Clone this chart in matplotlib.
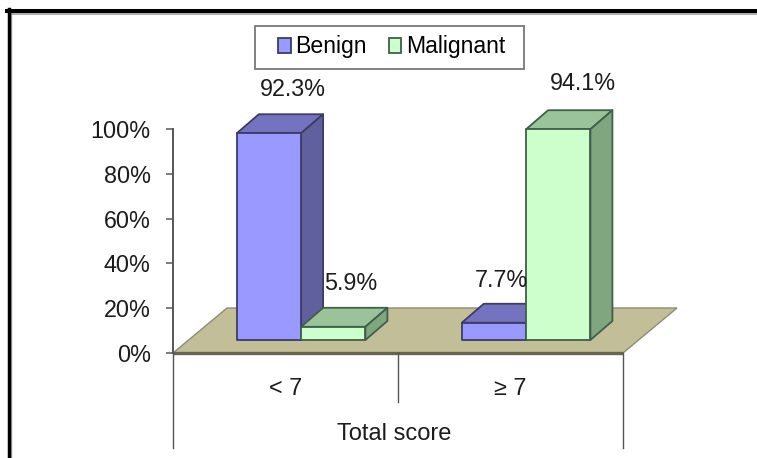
import matplotlib
matplotlib.use('Agg')
import matplotlib.pyplot as plt
from matplotlib.lines import Line2D
from matplotlib.patches import Patch, Polygon, Rectangle

categories = ['< 7', '≥ 7']
benign = [92.3, 7.7]
malignant = [5.9, 94.1]
yticks = [0, 20, 40, 60, 80, 100]

W, H = 757, 458
AX_LEFT, AX_RIGHT, AX_TOP, AX_BOTTOM = 173, 623, 129, 353

# pixels to data units
PX_X = 2 / (AX_RIGHT - AX_LEFT)
PX_Y = 100 / (AX_BOTTOM - AX_TOP)

FLOOR_DX, FLOOR_DY = 54 * PX_X, 45 * PX_Y
BAR_DX, BAR_DY = 22 * PX_X, 19 * PX_Y
BASE_DX, BASE_DY = 16 * PX_X, 13 * PX_Y
BAR_W = 64.3 * PX_X
GAP = 47.8 * PX_X

COLORS = {
    'benign': ('#9999ff', '#7373c0', '#60609f', '#3c3c66'),
    'malignant': ('#ccffcc', '#9ac39a', '#80a680', '#3f5f4a'),
}
TEXT = '#1c1c1c'
FONT = 16.8

plt.rcParams['font.family'] = ['Liberation Sans', 'DejaVu Sans']


def draw_bar(ax, x0, value, colors):
    front, top, side, edge = colors
    y0 = BASE_DY
    x1 = x0 + BAR_W
    y1 = y0 + value
    kw = dict(edgecolor=edge, linewidth=1.3, clip_on=False, joinstyle='round')
    ax.add_patch(Polygon([(x0, y1), (x1, y1), (x1 + BAR_DX, y1 + BAR_DY), (x0 + BAR_DX, y1 + BAR_DY)],
                         facecolor=top, zorder=3, **kw))
    ax.add_patch(Polygon([(x1, y0), (x1 + BAR_DX, y0 + BAR_DY), (x1 + BAR_DX, y1 + BAR_DY), (x1, y1)],
                         facecolor=side, zorder=3, **kw))
    ax.add_patch(Polygon([(x0, y0), (x1, y0), (x1, y1), (x0, y1)],
                         facecolor=front, zorder=3, **kw))


fig = plt.figure(figsize=(W / 100, H / 100), dpi=100)
ax = fig.add_axes([AX_LEFT / W, 1 - AX_BOTTOM / H, (AX_RIGHT - AX_LEFT) / W, (AX_BOTTOM - AX_TOP) / H])
ax.set_xlim(0, 2)
ax.set_ylim(0, 100)

for s in ['top', 'right', 'bottom']:
    ax.spines[s].set_visible(False)
ax.spines['left'].set_color('#555555')
ax.spines['left'].set_linewidth(1.4)

ax.set_yticks(yticks)
ax.set_yticklabels(['%d%%' % t for t in yticks], fontsize=FONT, color=TEXT)
ax.tick_params(axis='y', length=5, width=1.2, color='#666666', pad=11)
ax.set_xticks([0.5, 1.5])
ax.set_xticklabels(categories, fontsize=FONT, color=TEXT)
ax.tick_params(axis='x', length=0, pad=17)
ax.set_xlabel('Total score', fontsize=17, color=TEXT, va='center')
ax.xaxis.set_label_coords(0.491, -0.36)

# floor of the 3d box
ax.add_patch(Polygon([(0, 0), (2, 0), (2 + FLOOR_DX, FLOOR_DY), (FLOOR_DX, FLOOR_DY)],
                     facecolor='#c2bf98', edgecolor='#8c8c78', linewidth=1.0, clip_on=False, zorder=1))
ax.plot([0, 2], [0, 0], color='#66664f', linewidth=2.4, clip_on=False, zorder=2, solid_capstyle='butt')

# category dividers under the floor
ax.plot([0, 0], [0, -42.5], color='#555555', linewidth=1.0, clip_on=False)
ax.plot([1, 1], [0, -22], color='#555555', linewidth=1.0, clip_on=False)
ax.plot([2, 2], [0, -42.5], color='#555555', linewidth=1.0, clip_on=False)

# offsets of the value labels from the middle of the bar top, in points
label_offsets = [(17, 31.3), (12.5, 31), (5.2, 30.5), (18, 33)]

for i in range(len(categories)):
    x_b = i + BASE_DX + GAP
    x_m = x_b + BAR_W
    draw_bar(ax, x_b, benign[i], COLORS['benign'])
    draw_bar(ax, x_m, malignant[i], COLORS['malignant'])

for k, (x, v) in enumerate([
    (0 + BASE_DX + GAP, benign[0]),
    (0 + BASE_DX + GAP + BAR_W, malignant[0]),
    (1 + BASE_DX + GAP, benign[1]),
    (1 + BASE_DX + GAP + BAR_W, malignant[1]),
]):
    ax.annotate('%.1f%%' % v, (x + BAR_W / 2, v + BASE_DY), xytext=label_offsets[k],
                textcoords='offset points', ha='center', va='center',
                fontsize=FONT, color=TEXT, zorder=5, annotation_clip=False)

# legend box is drawn apart because its contents sit off centre
fig.add_artist(Rectangle((255 / W, 1 - 69 / H), 269 / W, 43 / H, transform=fig.transFigure,
                         facecolor='white', edgecolor='#777777', linewidth=1.3, zorder=4))
handles = [
    Patch(facecolor=COLORS['benign'][0], edgecolor=COLORS['benign'][3], linewidth=1.3, label='Benign'),
    Patch(facecolor=COLORS['malignant'][0], edgecolor=COLORS['malignant'][3], linewidth=1.3, label='Malignant'),
]
leg = fig.legend(handles=handles, loc='center left', bbox_to_anchor=(278 / W, 1 - 47 / H), ncol=2,
                 fontsize=16.6, frameon=False, handlelength=0.55, handleheight=0.6,
                 handletextpad=0.2, columnspacing=0.95, borderpad=0, borderaxespad=0)
leg.set_zorder(5)

# picture frame, open on the right and at the bottom, with a grey inner shadow
fig.add_artist(Line2D([10.8 / W, 10.8 / W], [0, 1 - 13 / H], color='#aaaaaa', linewidth=1.0, transform=fig.transFigure))
fig.add_artist(Line2D([10 / W, 1], [1 - 13.6 / H, 1 - 13.6 / H], color='#999999', linewidth=1.1, transform=fig.transFigure))
fig.add_artist(Line2D([8.5 / W, 8.5 / W], [0, 1 - 9 / H], color='black', linewidth=2.5, transform=fig.transFigure))
fig.add_artist(Line2D([7 / W, 1], [1 - 11 / H, 1 - 11 / H], color='black', linewidth=2.9, transform=fig.transFigure))

fig.savefig('out.png', dpi=100)
